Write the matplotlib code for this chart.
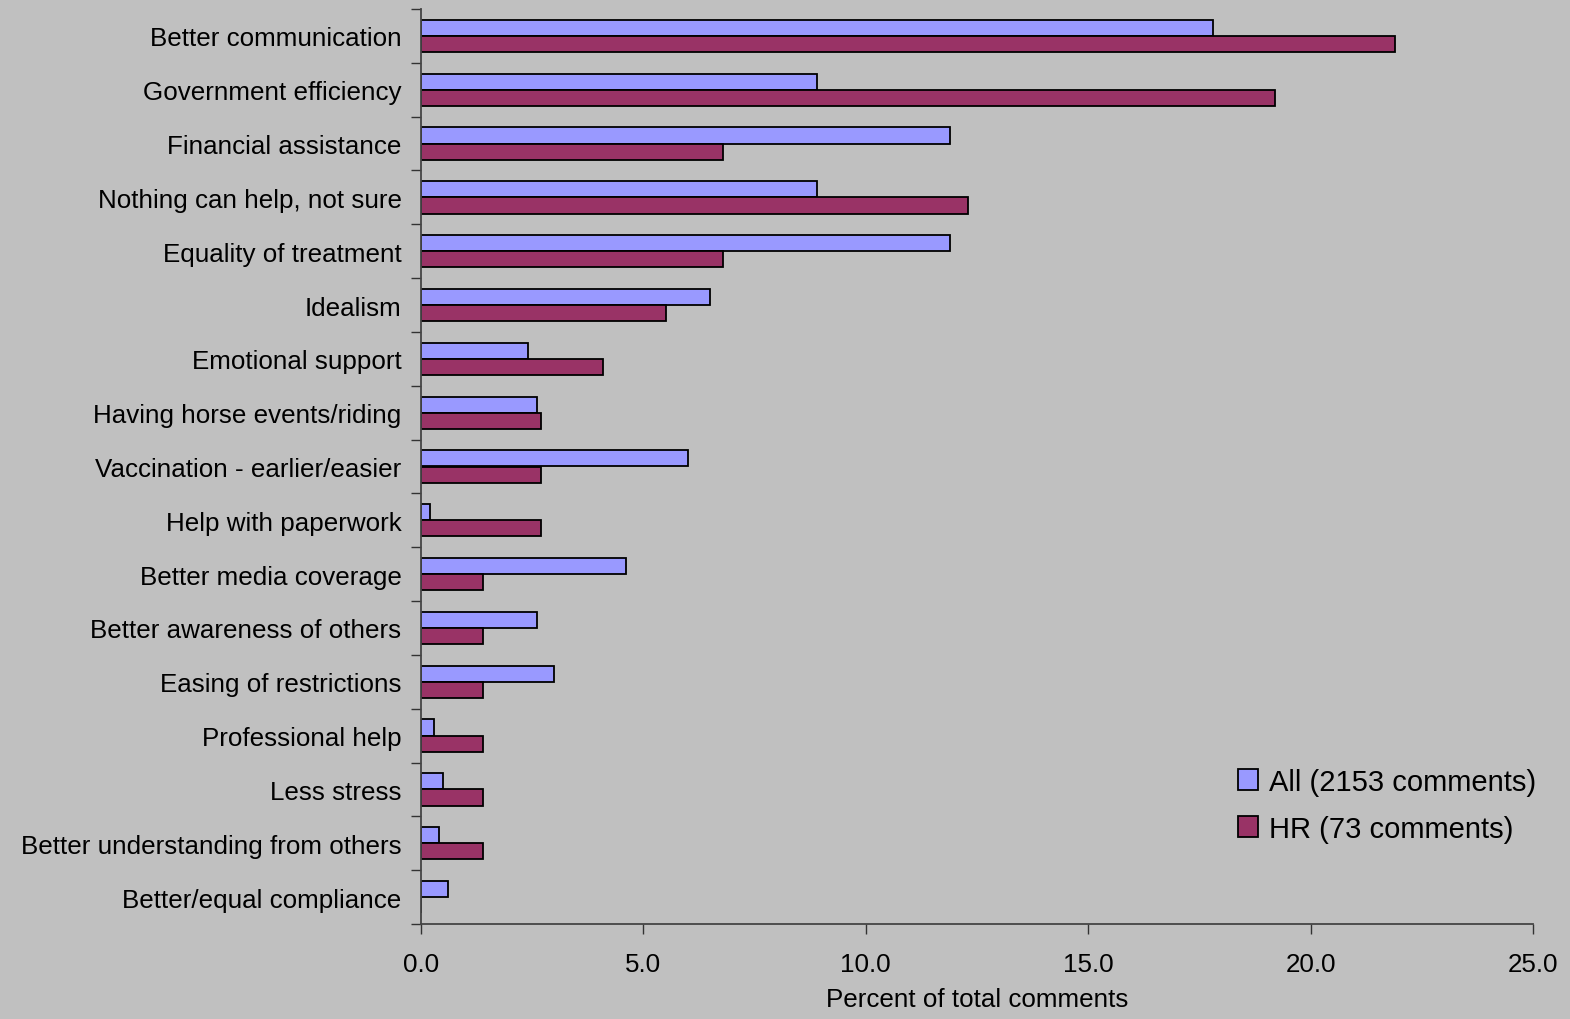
import matplotlib
matplotlib.use("Agg")
import matplotlib.pyplot as plt
import numpy as np

plt.rcParams['font.family'] = ['Liberation Sans', 'DejaVu Sans']

categories = [
    "Better communication", "Government efficiency", "Financial assistance",
    "Nothing can help, not sure", "Equality of treatment", "Idealism",
    "Emotional support", "Having horse events/riding", "Vaccination - earlier/easier",
    "Help with paperwork", "Better media coverage", "Better awareness of others",
    "Easing of restrictions", "Professional help", "Less stress",
    "Better understanding from others", "Better/equal compliance",
]
all_vals = [17.8, 8.9, 11.9, 8.9, 11.9, 6.5, 2.4, 2.6, 6.0, 0.2, 4.6, 2.6, 3.0, 0.3, 0.5, 0.4, 0.6]
hr_vals = [21.9, 19.2, 6.8, 12.3, 6.8, 5.5, 4.1, 2.7, 2.7, 2.7, 1.4, 1.4, 1.4, 1.4, 1.4, 1.4, 0.0]
series_labels = ["All (2153 comments)", "HR (73 comments)"]
xticks = [0, 5, 10, 15, 20, 25]

bg = "#C0C0C0"
fig = plt.figure(figsize=(15.7, 10.2), dpi=100, facecolor=bg)
ax = fig.add_axes([421/1570, 1-925/1020, (1533-421)/1570, (925-10)/1020])
ax.set_facecolor(bg)

n = len(categories)
y = np.arange(n)
h = 0.3
ax.barh(y - h/2, all_vals, height=h, color="#9999FF", edgecolor="black", linewidth=1.3, label=series_labels[0])
ax.barh(y + h/2, hr_vals, height=h, color="#993366", edgecolor="black", linewidth=1.3, label=series_labels[1])

ax.set_ylim(n - 0.5, -0.5)
ax.set_xlim(0, 25)
ax.set_yticks(y)
ax.set_yticklabels(categories, fontsize=18.7)
ax.tick_params(axis='y', which='major', length=0, pad=14)
ax.set_yticks(np.arange(n + 1) - 0.5, minor=True)
ax.tick_params(axis='y', which='minor', length=7, width=1, color="#333333", direction='out')
ax.set_xticks(xticks)
ax.set_xticklabels([f"{v:.1f}" for v in xticks], fontsize=18.7)
ax.tick_params(axis='x', length=7, width=1, color="#333333", direction='out', pad=13)

for s in ['top', 'right']:
    ax.spines[s].set_visible(False)
for s in ['left', 'bottom']:
    ax.spines[s].set_color("#444444")
    ax.spines[s].set_linewidth(1.3)

ax.set_xlabel("Percent of total comments", fontsize=18.7, labelpad=8)

leg = ax.legend(loc='lower right', bbox_to_anchor=(1.026, 0.06), frameon=False, fontsize=21,
                handlelength=0.7, handleheight=0.7, handletextpad=0.35, labelspacing=0.66)

fig.savefig("out.png", dpi=100, facecolor=bg)
